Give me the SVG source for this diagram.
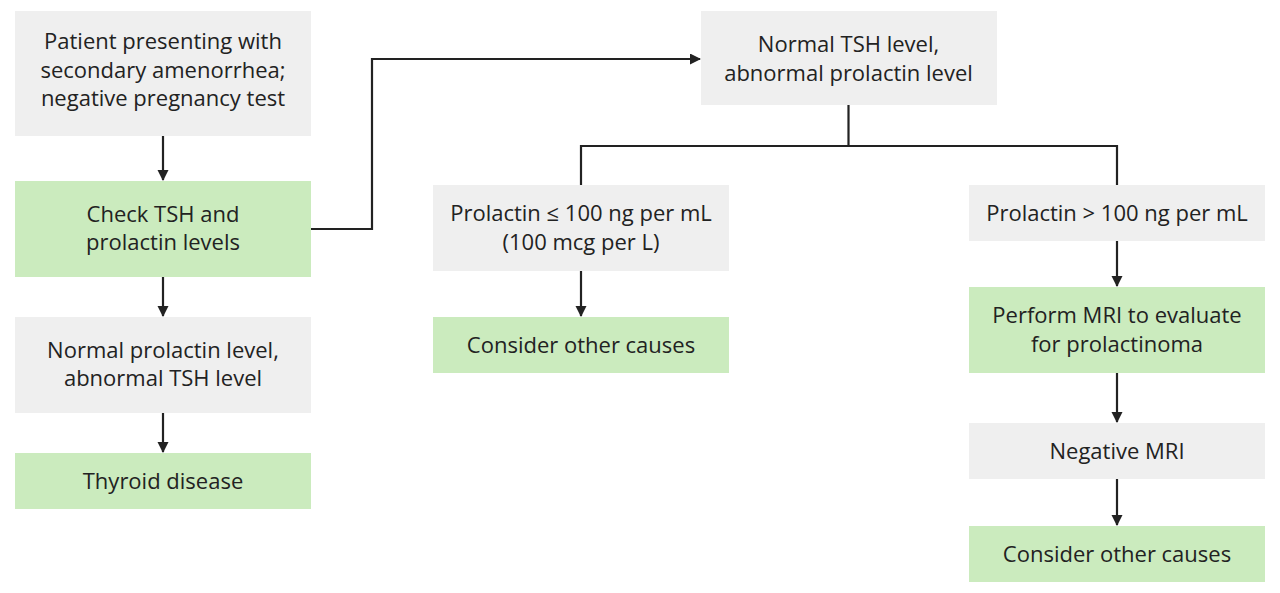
<svg xmlns="http://www.w3.org/2000/svg" width="1280" height="593" viewBox="0 0 1280 593">
<style>
.g{fill:#efefef}
.n{fill:#cbebbe}
text{font-family:"Open Sans","Liberation Sans",sans-serif;font-size:22px;fill:#222;text-anchor:middle}
.c{fill:none;stroke:#222;stroke-width:2.2}
</style>
<defs>
<marker id="ah" markerWidth="12" markerHeight="12" refX="10" refY="5.5" orient="auto" markerUnits="userSpaceOnUse">
<path d="M0,0 L11,5.5 L0,11 Z" fill="#222"/>
</marker>
</defs>
<rect width="1280" height="593" fill="#fff"/>
<g id="connectors">
<path class="c" d="M163,136 V180" marker-end="url(#ah)"/>
<path class="c" d="M163,277 V316" marker-end="url(#ah)"/>
<path class="c" d="M163,413 V452" marker-end="url(#ah)"/>
<path class="c" d="M311,229 H372 V59 H700" marker-end="url(#ah)"/>
<path class="c" d="M848.5,105 V146 M581,185 V146 H1117 V185"/>
<path class="c" d="M581,271 V316" marker-end="url(#ah)"/>
<path class="c" d="M1117,241 V286" marker-end="url(#ah)"/>
<path class="c" d="M1117,373 V422" marker-end="url(#ah)"/>
<path class="c" d="M1117,479 V525" marker-end="url(#ah)"/>
</g>
<g id="n1"><rect class="g" x="15" y="11" width="296" height="125"/>
<text x="163" y="49">Patient presenting with</text><text x="163" y="78">secondary amenorrhea;</text><text x="163" y="106">negative pregnancy test</text></g>
<g id="n2"><rect class="n" x="15" y="181" width="296" height="96"/>
<text x="163" y="222">Check TSH and</text><text x="163" y="250">prolactin levels</text></g>
<g id="n3"><rect class="g" x="15" y="317" width="296" height="96"/>
<text x="163" y="358">Normal prolactin level,</text><text x="163" y="386">abnormal TSH level</text></g>
<g id="n4"><rect class="n" x="15" y="453" width="296" height="56"/>
<text x="163" y="489">Thyroid disease</text></g>
<g id="n5"><rect class="g" x="701" y="11" width="296" height="94"/>
<text x="848.5" y="52">Normal TSH level,</text><text x="848.5" y="81">abnormal prolactin level</text></g>
<g id="n6"><rect class="g" x="433" y="185" width="296" height="86"/>
<text x="581" y="221">Prolactin ≤ 100 ng per mL</text><text x="581" y="250">(100 mcg per L)</text></g>
<g id="n7"><rect class="n" x="433" y="317" width="296" height="56"/>
<text x="581" y="353">Consider other causes</text></g>
<g id="n8"><rect class="g" x="969" y="185" width="296" height="56"/>
<text x="1117" y="221">Prolactin &gt; 100 ng per mL</text></g>
<g id="n9"><rect class="n" x="969" y="287" width="296" height="86"/>
<text x="1117" y="323">Perform MRI to evaluate</text><text x="1117" y="352">for prolactinoma</text></g>
<g id="n10"><rect class="g" x="969" y="423" width="296" height="56"/>
<text x="1117" y="459">Negative MRI</text></g>
<g id="n11"><rect class="n" x="969" y="526" width="296" height="56"/>
<text x="1117" y="562">Consider other causes</text></g>
</svg>
